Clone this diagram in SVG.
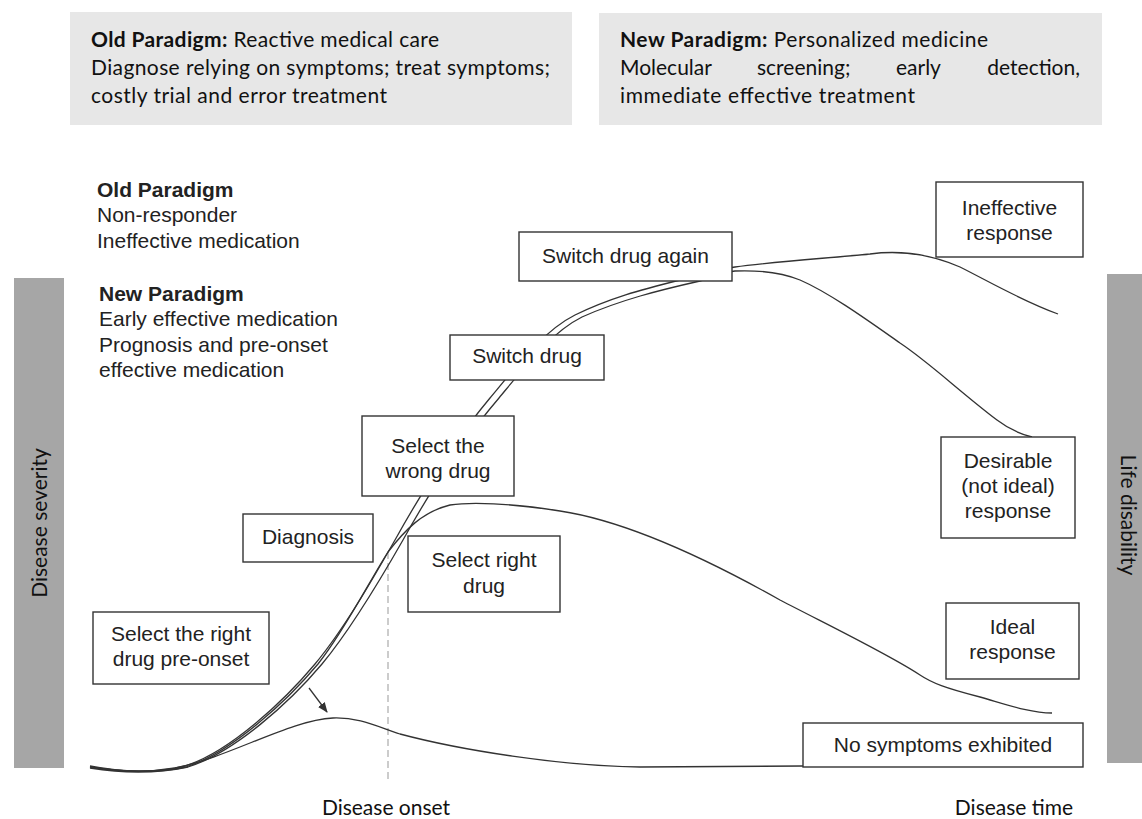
<svg xmlns="http://www.w3.org/2000/svg" width="1142" height="819" viewBox="0 0 1142 819">
  <defs>
    <style>
      .panel { fill: #e7e7e7; }
      .bar { fill: #a6a6a6; }
      .cal { font-family: Lato, "Open Sans", sans-serif; font-size: 21px; fill: #111; }
      .bold { font-weight: bold; }
      .lbl { font-family: "Liberation Sans", Arial, sans-serif; font-size: 21px; fill: #222; }
      .lblb { font-family: "Liberation Sans", Arial, sans-serif; font-size: 21px; font-weight: bold; fill: #222; }
      .box rect { fill: #fff; stroke: #333; stroke-width: 1.4; }
      .box text { font-family: "Liberation Sans", Arial, sans-serif; font-size: 21px; fill: #222; text-anchor: middle; }
      .curve { fill: none; stroke: #333; stroke-width: 1.3; }
      .onset { fill: none; stroke: #999; stroke-width: 1; stroke-dasharray: 7 4; }
      .axis { font-family: Lato, "Open Sans", sans-serif; font-size: 21px; fill: #111; text-anchor: middle; }
    </style>
    <marker id="head" viewBox="0 0 10 10" refX="9" refY="5" markerWidth="8" markerHeight="8" orient="auto">
      <path d="M0,1 L10,5 L0,9 Z" fill="#333"/>
    </marker>
  </defs>

  <rect width="1142" height="819" fill="#fff"/>

  <!-- paradigm summaries -->
  <g id="old-paradigm-panel">
    <rect class="panel" x="70" y="12" width="502" height="113"/>
    <text class="cal" x="91" y="47" textLength="348" lengthAdjust="spacing"><tspan class="bold">Old Paradigm:</tspan> Reactive medical care</text>
    <text class="cal" x="91" y="75" textLength="459" lengthAdjust="spacing">Diagnose relying on symptoms; treat symptoms;</text>
    <text class="cal" x="91" y="103" textLength="296" lengthAdjust="spacing">costly trial and error treatment</text>
  </g>
  <g id="new-paradigm-panel">
    <rect class="panel" x="599" y="13" width="503" height="112"/>
    <text class="cal" x="620" y="47" textLength="368" lengthAdjust="spacing"><tspan class="bold">New Paradigm:</tspan> Personalized medicine</text>
    <text class="cal" x="620" y="75">Molecular</text>
    <text class="cal" x="757" y="75">screening;</text>
    <text class="cal" x="896" y="75">early</text>
    <text class="cal" x="1080" y="75" text-anchor="end">detection,</text>
    <text class="cal" x="620" y="103" textLength="295" lengthAdjust="spacing">immediate effective treatment</text>
  </g>

  <!-- axis bars -->
  <g id="severity-axis">
    <rect class="bar" x="14" y="278" width="50" height="490"/>
    <text class="axis" transform="translate(47,523) rotate(-90)">Disease severity</text>
  </g>
  <g id="disability-axis">
    <rect class="bar" x="1107" y="274" width="35" height="489"/>
    <text class="axis" transform="translate(1121,515) rotate(90)">Life disability</text>
  </g>

  <!-- legend -->
  <g id="legend">
    <text class="lblb" x="97" y="197">Old Paradigm</text>
    <text class="lbl" x="97" y="222">Non-responder</text>
    <text class="lbl" x="97" y="248">Ineffective medication</text>
    <text class="lblb" x="99" y="301">New Paradigm</text>
    <text class="lbl" x="99" y="326">Early effective medication</text>
    <text class="lbl" x="99" y="352">Prognosis and pre-onset</text>
    <text class="lbl" x="99" y="377">effective medication</text>
  </g>

  <!-- response curves -->
  <g id="connectors">
    <line class="onset" x1="388" y1="552" x2="388" y2="782"/>
    <!-- ineffective response path -->
    <path class="curve" d="M90 767 C115 771 150 775 185 766 C230 752 285 700 315 664 C345 628 375 575 395 540 C420 495 455 440 490 398 C520 362 545 330 575 315 C610 298 640 290 680 280 C700 275 715 270 735 267 C770 262 830 258 870 254 C900 250 930 254 960 267 C990 282 1020 300 1058 314"/>
    <!-- desirable response path -->
    <path class="curve" d="M90 768 C115 772 150 775 188 767 C235 752 290 702 322 664 C352 628 383 575 403 540 C428 495 463 440 499 398 C528 363 552 332 582 317 C620 300 660 290 700 281 C715 277 725 272 735 271 C760 270 780 272 800 280 C830 293 870 322 900 343 C930 363 960 392 997 420 C1010 430 1020 434 1032 437"/>
    <!-- ideal response path -->
    <path class="curve" d="M90 767 C115 771 150 775 186 767 C232 752 287 701 318 664 C345 630 370 580 388 552 C405 530 422 512 450 505 C470 502 510 503 560 511 C620 520 700 555 780 600 C830 626 890 655 920 675 C932 683 945 688 980 697 C1005 704 1030 713 1052 713"/>
    <!-- pre-onset path -->
    <path class="curve" d="M90 766 C110 770 140 774 175 768 C230 757 290 720 333 718 C360 717 380 728 400 734 C460 750 560 766 640 767 L803 766"/>
    <line class="curve" x1="309" y1="688" x2="327" y2="712" marker-end="url(#head)"/>
  </g>

  <!-- stage labels -->
  <g id="ineffective-response" class="box">
    <rect x="936" y="182" width="147" height="75"/>
    <text x="1009.5" y="215">Ineffective</text>
    <text x="1009.5" y="240">response</text>
  </g>
  <g id="switch-drug-again" class="box">
    <rect x="519" y="232" width="213" height="49"/>
    <text x="625.5" y="263">Switch drug again</text>
  </g>
  <g id="switch-drug" class="box">
    <rect x="450" y="335" width="154" height="45"/>
    <text x="527" y="363">Switch drug</text>
  </g>
  <g id="select-wrong-drug" class="box">
    <rect x="362" y="416" width="152" height="80"/>
    <text x="438" y="453">Select the</text>
    <text x="438" y="478">wrong drug</text>
  </g>
  <g id="diagnosis" class="box">
    <rect x="243" y="514" width="130" height="48"/>
    <text x="308" y="544">Diagnosis</text>
  </g>
  <g id="select-right-drug" class="box">
    <rect x="408" y="536" width="152" height="76"/>
    <text x="484" y="567">Select right</text>
    <text x="484" y="593">drug</text>
  </g>
  <g id="select-pre-onset" class="box">
    <rect x="93" y="612" width="176" height="72"/>
    <text x="181" y="641">Select the right</text>
    <text x="181" y="666">drug pre-onset</text>
  </g>
  <g id="desirable-response" class="box">
    <rect x="941" y="437" width="134" height="101"/>
    <text x="1008" y="468">Desirable</text>
    <text x="1008" y="493">(not ideal)</text>
    <text x="1008" y="518">response</text>
  </g>
  <g id="ideal-response" class="box">
    <rect x="946" y="603" width="133" height="76"/>
    <text x="1012.5" y="634">Ideal</text>
    <text x="1012.5" y="659">response</text>
  </g>
  <g id="no-symptoms" class="box">
    <rect x="803" y="723" width="280" height="44"/>
    <text x="943" y="752">No symptoms exhibited</text>
  </g>

  <!-- time axis labels -->
  <g id="time-labels">
    <text class="axis" x="386" y="815">Disease onset</text>
    <text class="axis" x="1014" y="815">Disease time</text>
  </g>
</svg>
